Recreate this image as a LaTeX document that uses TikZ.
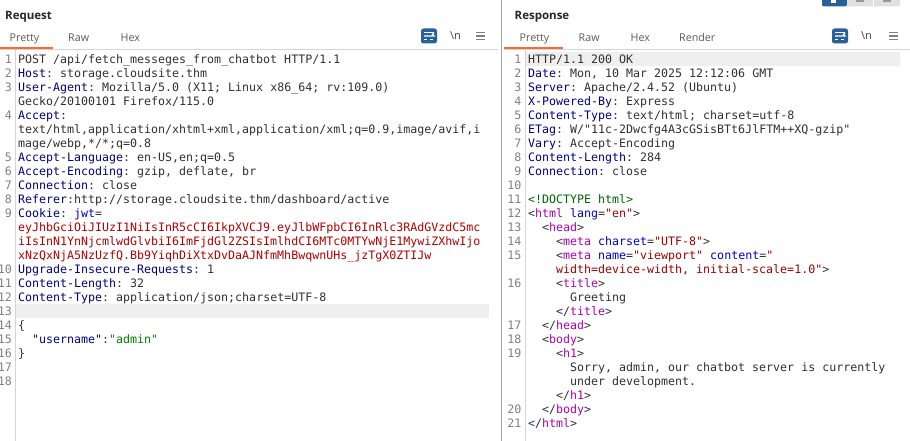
\documentclass[tikz,border=0pt]{standalone}
\usepackage{fontspec}
\setmainfont{Open Sans}
\newfontfamily\codefont{DejaVu Sans Mono}[Scale=1]
\usetikzlibrary{calc}
\frenchspacing
\definecolor{keynavy}{HTML}{000080}
\definecolor{valdark}{HTML}{303030}
\definecolor{tokenred}{HTML}{B00000}
\definecolor{attrblue}{HTML}{0000C8}
\definecolor{tagpurple}{HTML}{B000B0}
\definecolor{strred}{HTML}{A00000}
\definecolor{docgreen}{HTML}{006400}
\definecolor{jsongreen}{HTML}{008000}
\definecolor{tabgrey}{HTML}{5A5A5A}
\definecolor{rulegrey}{HTML}{D4D4D4}
\definecolor{barblue}{HTML}{2A6099}
\definecolor{burporange}{HTML}{FF6633}
\definecolor{hlgrey}{HTML}{EFEFEF}
\newcommand{\K}[1]{\textcolor{keynavy}{#1}}
\newcommand{\T}[1]{\textcolor{tagpurple}{#1}}
\newcommand{\A}[1]{\textcolor{attrblue}{#1}}
\newcommand{\V}[1]{\textcolor{strred}{#1}}
\tikzset{
    codeline/.style={anchor=base west, inner sep=0pt, text=valdark, font=\codefont\fontsize{11.63}{14}\selectfont},
    linenum/.style={anchor=base east, inner sep=0pt, text=black!50, font=\codefont\fontsize{11.63}{14}\selectfont},
    panetitle/.style={anchor=base west, inner sep=0pt, text=black!85, font=\fontsize{11.5}{14}\selectfont\bfseries},
    tablabel/.style={anchor=base west, inner sep=0pt, text=tabgrey, font=\fontsize{10.7}{14}\selectfont},
    wrapicon/.style={fill=barblue, rounded corners=2.5pt, minimum width=16pt, minimum height=15pt, inner sep=0pt},
    newlineicon/.style={inner sep=0pt, text=black!75, font=\fontsize{11}{12}\selectfont},
    menuicon/.style={minimum width=9pt, minimum height=9pt, inner sep=0pt},
    panebar/.style={fill=hlgrey, draw=none},
    iconline/.style={white, line width=1.1pt},
}
\begin{document}
\begin{tikzpicture}[x=1pt,y=-1pt]
    \useasboundingbox (0,0) rectangle (910,441);
    % highlighted rows
    \fill [panebar] (16,304) rectangle (489,318);
    \fill [panebar] (526,52) rectangle (900,66);
    % rules
    \draw [rulegrey, line width=1pt] (0,49.5) -- (498,49.5);
    \draw [rulegrey, line width=1pt] (504,49.5) -- (910,49.5);
    \draw [rulegrey, line width=1pt] (15.5,50) -- (15.5,441);
    \draw [rulegrey, line width=1pt] (525.5,50) -- (525.5,441);
    \draw [black!35, line width=1pt] (501.5,0) -- (501.5,441);
    \fill [burporange] (0,47) rectangle (53,49);
    \fill [burporange] (504,47) rectangle (563,49);
    % layout buttons
    \fill [barblue, rounded corners=2pt] (822,-4) rectangle (847,6.5);
    \fill [black!12, rounded corners=2pt] (847,-4) rectangle (900,6.5);
    \draw [white, line width=1pt] (873.5,0) -- (873.5,6.5);
    \fill [white] (833,0) rectangle (836,3.5);
    \fill [white] (831,0) rectangle (832.5,3.5);
    \fill [black!40] (856,0) rectangle (864,2.5);
    \fill [black!40] (883,0) rectangle (891,2.5);
    % titles and tabs
    \node [panetitle] (reqtitle) at (5,20) {Request};
    \node [tablabel] (reqpretty) at (9.5,42) {Pretty};
    \node [tablabel] (reqraw) at (68,42) {Raw};
    \node [tablabel] (reqhex) at (120.5,42) {Hex};
    \node [panetitle] (resptitle) at (514.5,20) {Response};
    \node [tablabel] (resppretty) at (519.5,42) {Pretty};
    \node [tablabel] (respraw) at (578.5,42) {Raw};
    \node [tablabel] (resphex) at (630.5,42) {Hex};
    \node [tablabel] (resprender) at (679,42) {Render};
    % toolbar icons
    \foreach \name/\xa/\xb/\xc in {req/429/455.5/480.5, resp/840/866.5/893.5} {
        \node [wrapicon] (\name wrap) at (\xa,36) {};
        \draw [iconline] ($(\name wrap.center)+(-5,-3.5)$) -- ++(10,0);
        \draw [iconline] ($(\name wrap.center)+(-5,0)$) -- ++(10,0) arc (-90:90:-1.5 and -1.5);
        \draw [iconline] ($(\name wrap.center)+(-5,3.5)$) -- ++(3,0);
        \draw [iconline] ($(\name wrap.center)+(1,3.5)$) -- ++(3,0);
        \node [newlineicon] (\name newline) at (\xb,35.5) {\textbackslash n};
        \node [menuicon] (\name menu) at (\xc,36) {};
        \foreach \dy in {-3.5,0,3.5}
            \draw [black!50, line width=1.7pt] ($(\name menu.center)+(-4.5,\dy)$) -- ++(9,0);
    }
    % line numbers
    \foreach \n/\r in {1/0,2/1,3/2,4/4,5/7,6/8,7/9,8/10,9/11,10/15,11/16,12/17,13/18,14/19,15/20,16/21,17/22,18/23}
        \node [linenum] (reqnum\n) at (12,{63.5+14*\r}) {\n};
    \foreach \n/\r in {1/0,2/1,3/2,4/3,5/4,6/5,7/6,8/7,9/8,10/9,11/10,12/11,13/12,14/13,15/14,16/16,17/19,18/20,19/21,20/25,21/26}
        \node [linenum] (respnum\n) at (521.5,{63.5+14*\r}) {\n};
    % request
    \node [codeline] (req1) at (18,63.5) {POST /api/fetch\_messeges\_from\_chatbot HTTP/1.1};
    \node [codeline] (req2) at (18,77.5) {\K{Host}: storage.cloudsite.thm};
    \node [codeline] (req3) at (18,91.5) {\K{User-Agent}: Mozilla/5.0 (X11; Linux x86\_64; rv:109.0)};
    \node [codeline] (req3b) at (18,105.5) {Gecko/20100101 Firefox/115.0};
    \node [codeline] (req4) at (18,119.5) {\K{Accept}:};
    \node [codeline] (req4b) at (18,133.5) {text/html,application/xhtml+xml,application/xml;q=0.9,image/avif,i};
    \node [codeline] (req4c) at (18,147.5) {mage/webp,*/*;q=0.8};
    \node [codeline] (req5) at (18,161.5) {\K{Accept-Language}: en-US,en;q=0.5};
    \node [codeline] (req6) at (18,175.5) {\K{Accept-Encoding}: gzip, deflate, br};
    \node [codeline] (req7) at (18,189.5) {\K{Connection}: close};
    \node [codeline] (req8) at (18,203.5) {\K{Referer}:http://storage.cloudsite.thm/dashboard/active};
    \node [codeline] (req9) at (18,217.5) {\K{Cookie}: \A{jwt}=};
    \node [codeline, text=tokenred] (req9b) at (18,231.5) {eyJhbGciOiJIUzI1NiIsInR5cCI6IkpXVCJ9.eyJlbWFpbCI6InRlc3RAdGVzdC5mc};
    \node [codeline, text=tokenred] (req9c) at (18,245.5) {iIsInN1YnNjcmlwdGlvbiI6ImFjdGl2ZSIsImlhdCI6MTc0MTYwNjE1MywiZXhwIjo};
    \node [codeline, text=tokenred] (req9d) at (18,259.5) {xNzQxNjA5NzUzfQ.Bb9YiqhDiXtxDvDaAJNfmMhBwqwnUHs\_jzTgX0ZTIJw};
    \node [codeline] (req10) at (18,273.5) {\K{Upgrade-Insecure-Requests}: 1};
    \node [codeline] (req11) at (18,287.5) {\K{Content-Length}: 32};
    \node [codeline] (req12) at (18,301.5) {\K{Content-Type}: application/json;charset=UTF-8};
    \node [codeline] (req14) at (18,329.5) {\{};
    \node [codeline] (req15) at (18,343.5) {\phantom{xx}\K{"username"}:\textcolor{jsongreen}{"admin"}};
    \node [codeline] (req16) at (18,357.5) {\}};
    % response
    \node [codeline] (resp1) at (528,63.5) {HTTP/1.1 200 OK};
    \node [codeline] (resp2) at (528,77.5) {\K{Date}: Mon, 10 Mar 2025 12:12:06 GMT};
    \node [codeline] (resp3) at (528,91.5) {\K{Server}: Apache/2.4.52 (Ubuntu)};
    \node [codeline] (resp4) at (528,105.5) {\K{X-Powered-By}: Express};
    \node [codeline] (resp5) at (528,119.5) {\K{Content-Type}: text/html; charset=utf-8};
    \node [codeline] (resp6) at (528,133.5) {\K{ETag}: W/"11c-2Dwcfg4A3cGSisBTt6JlFTM++XQ-gzip"};
    \node [codeline] (resp7) at (528,147.5) {\K{Vary}: Accept-Encoding};
    \node [codeline] (resp8) at (528,161.5) {\K{Content-Length}: 284};
    \node [codeline] (resp9) at (528,175.5) {\K{Connection}: close};
    \node [codeline, text=docgreen] (resp11) at (528,203.5) {<!DOCTYPE html>};
    \node [codeline] (resp12) at (528,217.5) {<\T{html} \A{lang}=\V{"en"}>};
    \node [codeline] (resp13) at (542,231.5) {<\T{head}>};
    \node [codeline] (resp14) at (556,245.5) {<\T{meta} \A{charset}=\V{"UTF-8"}>};
    \node [codeline] (resp15) at (556,259.5) {<\T{meta} \A{name}=\V{"viewport"} \A{content}=\V{"}};
    \node [codeline] (resp15b) at (556,273.5) {\V{width=device-width, initial-scale=1.0"}>};
    \node [codeline] (resp16) at (556,287.5) {<\T{title}>};
    \node [codeline] (resp16b) at (570,301.5) {Greeting};
    \node [codeline] (resp16c) at (556,315.5) {</\T{title}>};
    \node [codeline] (resp17) at (542,329.5) {</\T{head}>};
    \node [codeline] (resp18) at (542,343.5) {<\T{body}>};
    \node [codeline] (resp19) at (556,357.5) {<\T{h1}>};
    \node [codeline] (resp19b) at (570,371.5) {Sorry, admin, our chatbot server is currently};
    \node [codeline] (resp19c) at (570,385.5) {under development.};
    \node [codeline] (resp19d) at (556,399.5) {</\T{h1}>};
    \node [codeline] (resp20) at (542,413.5) {</\T{body}>};
    \node [codeline] (resp21) at (528,427.5) {</\T{html}>};
\end{tikzpicture}
\end{document}
